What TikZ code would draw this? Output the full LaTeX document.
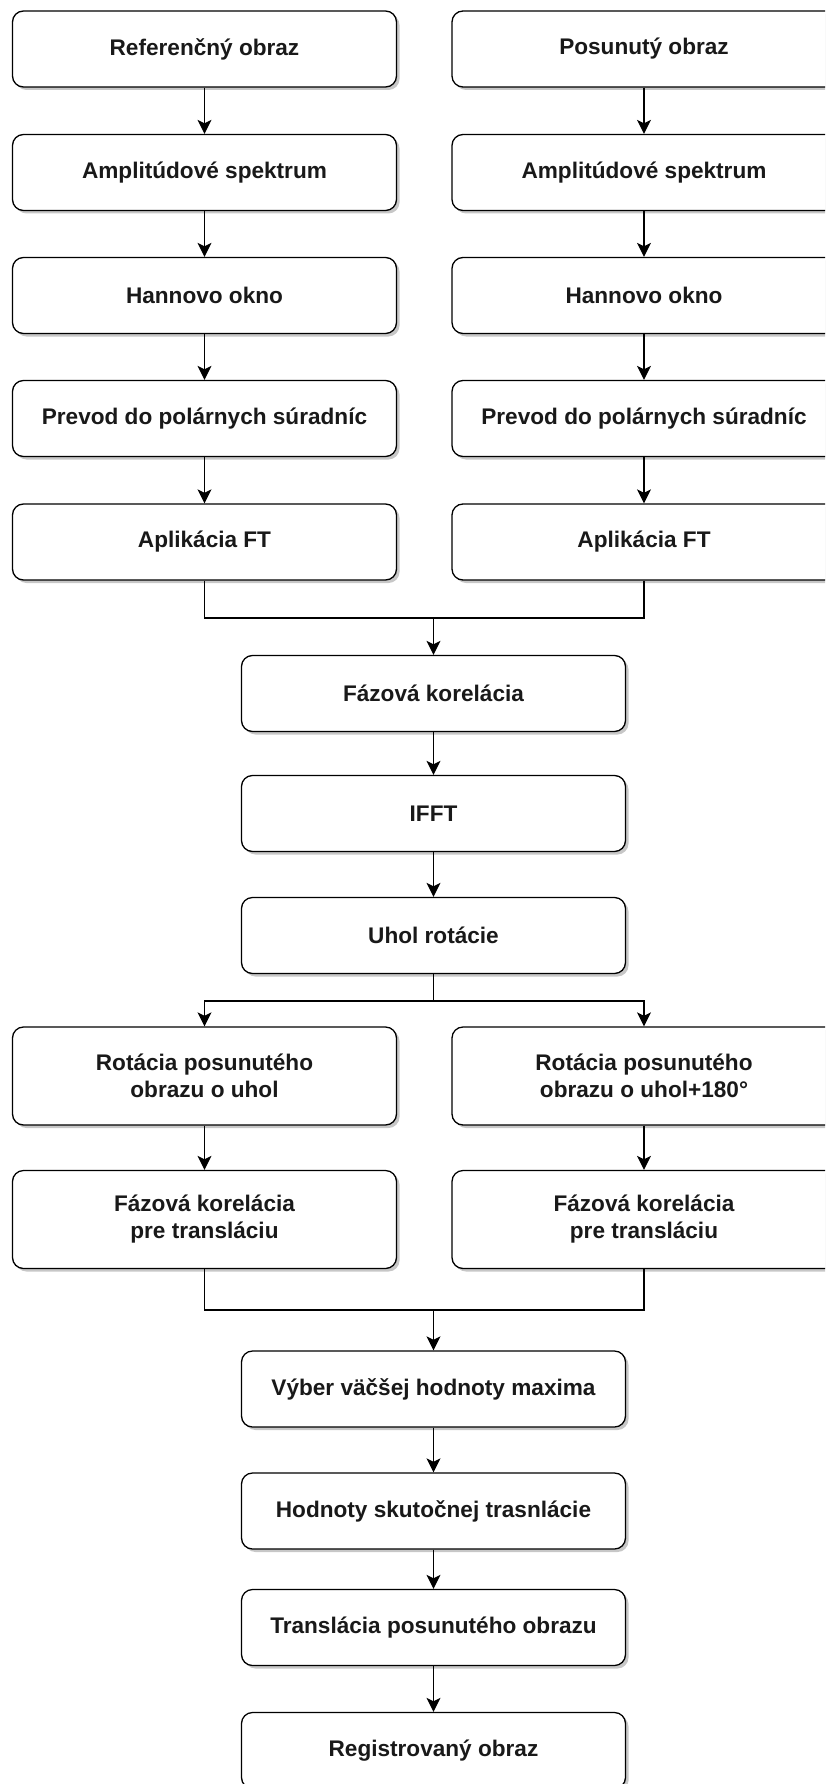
\documentclass[tikz,border=0pt]{standalone}
\usepackage{fontspec}
\setmainfont{Liberation Sans}
\usetikzlibrary{arrows.meta,shadows}

\tikzset{
  stepbox/.style={
    draw=black, line width=1.3pt, fill=white, rounded corners=11pt,
    minimum width=384pt, minimum height=76pt, inner sep=0pt,
    align=center, text=black!90,
    font=\fontsize{22.6}{27}\selectfont\bfseries,
    drop shadow={shadow xshift=3pt, shadow yshift=-3pt, opacity=0.22, fill=black}
  },
  tallbox/.style={stepbox, minimum height=98pt},
  flow/.style={draw=black, line width=1.3pt,
    -{Stealth[length=14pt, width=14pt, inset=3.5pt]}},
  wire/.style={draw=black, line width=1.3pt}
}

\begin{document}
\begin{tikzpicture}[x=1pt, y=-1pt]
\clip (0,0) rectangle (825,1784);
\fill[white] (0,0) rectangle (825,1784);

% two input branches
\node[stepbox] (l1) at (204.5,49)    {Referenčný obraz};
\node[stepbox] (l2) at (204.5,172.5) {Amplitúdové spektrum};
\node[stepbox] (l3) at (204.5,295.5) {Hannovo okno};
\node[stepbox] (l4) at (204.5,418.5) {Prevod do polárnych súradníc};
\node[stepbox] (l5) at (204.5,542)   {Aplikácia FT};

\node[stepbox] (r1) at (644,49)    {Posunutý obraz};
\node[stepbox] (r2) at (644,172.5) {Amplitúdové spektrum};
\node[stepbox] (r3) at (644,295.5) {Hannovo okno};
\node[stepbox] (r4) at (644,418.5) {Prevod do polárnych súradníc};
\node[stepbox] (r5) at (644,542)   {Aplikácia FT};

% rotation estimate
\node[stepbox] (c1) at (433.5,693.5) {Fázová korelácia};
\node[stepbox] (c2) at (433.5,813.5) {IFFT};
\node[stepbox] (c3) at (433.5,935.5) {Uhol rotácie};

% the two rotation hypotheses
\node[tallbox] (l6) at (204.5,1076)  {Rotácia posunutého\\obrazu o uhol};
\node[tallbox] (l7) at (204.5,1219.5){Fázová korelácia\\pre transláciu};
\node[tallbox] (r6) at (644,1076)    {Rotácia posunutého\\obrazu o uhol+180°};
\node[tallbox] (r7) at (644,1219.5)  {Fázová korelácia\\pre transláciu};

% final steps
\node[stepbox] (d1) at (433.5,1389)   {Výber väčšej hodnoty maxima};
\node[stepbox] (d2) at (433.5,1511)   {Hodnoty skutočnej trasnlácie};
\node[stepbox] (d3) at (433.5,1627.5) {Translácia posunutého obrazu};
\node[stepbox] (d4) at (433.5,1750.5) {Registrovaný obraz};

% junction points
\coordinate (m1) at (433.5,618);
\coordinate (s1) at (433.5,1001);
\coordinate (m2) at (433.5,1310);

% vertical chains
\draw[flow] (l1) -- (l2);
\draw[flow] (l2) -- (l3);
\draw[flow] (l3) -- (l4);
\draw[flow] (l4) -- (l5);
\draw[flow] (r1) -- (r2);
\draw[flow] (r2) -- (r3);
\draw[flow] (r3) -- (r4);
\draw[flow] (r4) -- (r5);

% merge into the phase correlation
\draw[wire] (l5.south) |- (m1);
\draw[wire] (r5.south) |- (m1);
\draw[flow] (m1) -- (c1.north);
\draw[flow] (c1) -- (c2);
\draw[flow] (c2) -- (c3);

% split into the two hypotheses
\draw[wire] (c3.south) -- (s1);
\draw[flow] (s1) -| (l6.north);
\draw[flow] (s1) -| (r6.north);
\draw[flow] (l6) -- (l7);
\draw[flow] (r6) -- (r7);

% merge for the maximum selection
\draw[wire] (l7.south) |- (m2);
\draw[wire] (r7.south) |- (m2);
\draw[flow] (m2) -- (d1.north);
\draw[flow] (d1) -- (d2);
\draw[flow] (d2) -- (d3);
\draw[flow] (d3) -- (d4);
\end{tikzpicture}
\end{document}
